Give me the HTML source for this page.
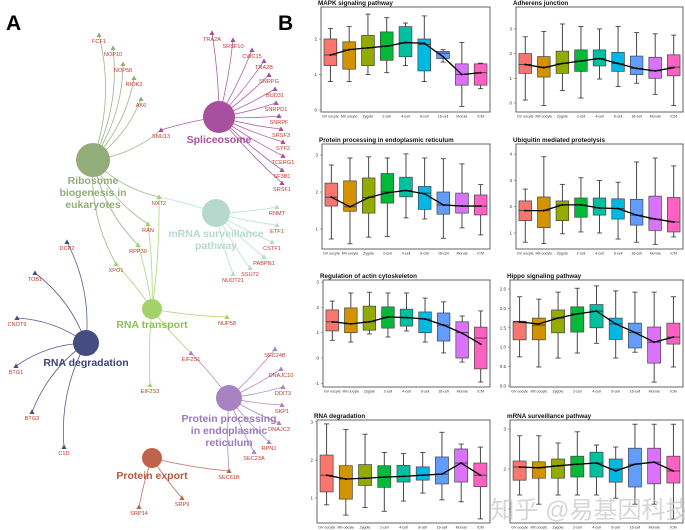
<!DOCTYPE html>
<html><head><meta charset="utf-8">
<style>
html,body{margin:0;padding:0;background:#fff;}
svg{display:block;font-family:"Liberation Sans","Noto Sans CJK SC",sans-serif;}
</style></head>
<body>
<svg id="fig" width="685" height="530" viewBox="0 0 685 530" xmlns="http://www.w3.org/2000/svg">
<g id="netA"></g>
<g id="boxB"></g>
<text x="6" y="30" font-size="21" font-weight="bold">A</text>
<text x="278" y="30" font-size="21" font-weight="bold">B</text>
<text x="590" y="518" font-size="24" fill="#c8c8c8" fill-opacity="0.75" text-anchor="middle">知乎 @易基因科技</text>
</svg>
<script>
// ---------- Panel B data ----------
const groups = ["GV oocyte","MII oocyte","Zygote","2-cell","4-cell","8-cell","16-cell","Morula","ICM"];
const panelTitles = ["MAPK signaling pathway","Adherens junction","Protein processing in endoplasmic reticulum","Ubiquitin mediated proteolysis","Regulation of actin cytoskeleton","Hippo signaling pathway","RNA degradation","mRNA surveillance pathway"];
// each entry: [lowWhisker, q1, median, q3, highWhisker]
const mapkStats = [[0.8,1.25,1.55,2.0,2.3],[0.8,1.15,1.7,1.92,2.35],[1.0,1.25,1.75,2.1,2.7],[1.05,1.4,1.8,2.2,2.6],[1.25,1.5,1.9,2.35,2.45],[0.8,1.1,1.85,2.0,2.65],[1.35,1.45,1.6,1.65,1.7],[0.1,0.7,1.0,1.3,1.9],[0.6,0.7,1.05,1.3,1.32]];
const mapkMean = [1.55,1.7,1.75,1.8,1.9,1.88,1.5,1.0,1.05];
const adherensStats = [[0.12,1.2,1.56,2.0,2.68],[-0.1,1.05,1.45,1.88,2.9],[0.5,1.2,1.6,2.1,3.2],[0.2,1.28,1.7,2.15,3.1],[0.97,1.5,1.8,2.15,3.0],[0.67,1.28,1.6,2.05,3.1],[0.8,1.15,1.4,1.9,2.85],[0.35,1.0,1.3,1.85,2.8],[-0.1,1.1,1.45,1.95,2.75]];
const adherensMean = [1.56,1.43,1.6,1.7,1.8,1.6,1.4,1.3,1.43];
const proteinStats = [[0.73,1.62,1.86,2.24,2.73],[0.6,1.48,1.6,2.3,2.92],[0.78,1.43,1.85,2.38,2.95],[0.8,1.7,2.0,2.5,2.92],[1.3,1.87,2.04,2.4,3.03],[1.27,1.53,1.97,2.15,2.92],[0.75,1.4,1.65,2.0,2.9],[1.03,1.43,1.62,1.97,2.76],[0.84,1.38,1.62,1.92,2.2]];
const proteinMean = [1.86,1.6,1.85,1.98,2.04,1.95,1.65,1.62,1.62];
const ubiqStats = [[0.65,1.47,1.85,2.22,2.67],[0.6,1.2,1.85,2.37,3.9],[0.97,1.47,2.07,2.22,2.85],[1.04,1.6,2.07,2.33,3.1],[1.0,1.68,1.95,2.33,3.0],[0.77,1.53,1.93,2.3,2.93],[0.65,1.3,1.68,2.28,3.7],[0.57,1.1,1.53,2.4,3.85],[0.85,1.04,1.42,2.35,3.55]];
const ubiqMean = [1.85,1.85,2.07,2.07,1.95,1.93,1.68,1.53,1.42];
const actinStats = [[0.7,1.07,1.43,1.9,2.25],[0.63,1.0,1.35,1.98,2.57],[0.95,1.1,1.43,2.05,2.6],[0.83,1.18,1.62,2.02,2.57],[1.07,1.26,1.58,1.93,2.57],[0.63,1.0,1.54,1.82,2.37],[0.2,0.67,1.3,1.78,2.22],[-0.16,0.0,1.0,1.43,1.66],[-0.95,-0.43,0.79,1.22,1.86]];
const actinMean = [1.43,1.35,1.43,1.62,1.6,1.54,1.3,0.98,0.55];
const hippoStats = [[0.75,1.19,1.65,1.67,2.3],[0.49,1.19,1.57,1.75,2.24],[0.72,1.37,1.75,1.96,2.42],[0.85,1.39,1.86,2.04,2.52],[1.1,1.5,1.93,2.1,2.58],[0.72,1.2,1.6,1.75,2.45],[0.87,0.98,1.38,1.62,2.42],[0.1,0.59,1.13,1.52,2.42],[0.49,1.08,1.26,1.62,2.3]];
const hippoMean = [1.65,1.6,1.75,1.86,1.93,1.6,1.38,1.13,1.26];
const rnadegStats = [[0.82,1.16,1.6,2.13,2.95],[0.55,0.97,1.5,1.85,2.8],[0.75,1.33,1.52,1.88,2.68],[0.65,1.28,1.55,1.85,2.2],[0.92,1.42,1.57,1.86,2.17],[1.13,1.47,1.6,1.82,2.2],[0.95,1.37,1.63,2.08,2.73],[0.9,1.42,1.92,2.29,2.42],[0.45,1.3,1.6,1.92,2.34]];
const rnadegMean = [1.6,1.5,1.52,1.55,1.57,1.6,1.63,1.92,1.6];
const mrnaStats = [[1.35,1.72,2.05,2.2,2.83],[1.12,1.77,2.03,2.18,2.83],[1.35,1.77,2.08,2.25,2.65],[1.35,1.8,2.12,2.32,2.93],[1.35,1.8,2.15,2.42,2.6],[1.27,1.67,2.0,2.25,2.55],[1.12,1.55,2.12,2.52,3.12],[1.12,1.63,2.17,2.52,3.12],[0.75,1.65,1.95,2.32,3.12]];
const mrnaMean = [2.05,2.03,2.08,2.12,2.15,1.95,2.12,2.17,1.95];
const tickSets = [[0,1,2],[0,1,2,3],[1,2,3],[1,2,3,4],[-1,0,1,2,3],[0,0.5,1,1.5,2,2.5],[1,2,3],[1,2,3]];

// ---------- layout (not data) ----------
const layouts = [
 {x0:321,x1:490,y0:7,y1:112,zero:110,unit:35.5},
 {x0:516,x1:683,y0:7,y1:112,zero:103,unit:24.7},
 {x0:322,x1:490,y0:144,y1:249,zero:266,unit:37},
 {x0:516,x1:683,y0:144,y1:249,zero:259.3,unit:26.3},
 {x0:323,x1:490,y0:280,y1:387,zero:358,unit:25.3},
 {x0:510,x1:683,y0:280,y1:387,zero:386,unit:38.8},
 {x0:317,x1:490,y0:420,y1:523,zero:536,unit:38},
 {x0:510,x1:683,y0:420,y1:523,zero:549,unit:40}
];
const allStats=[mapkStats,adherensStats,proteinStats,ubiqStats,actinStats,hippoStats,rnadegStats,mrnaStats];
const allMeans=[mapkMean,adherensMean,proteinMean,ubiqMean,actinMean,hippoMean,rnadegMean,mrnaMean];
const colors=["#F8766D","#D39200","#93AA00","#00BA38","#00C19F","#00B9E3","#619CFF","#DB72FB","#FF61C3"];
const NS="http://www.w3.org/2000/svg";
function mk(tag,attrs,parent){const e=document.createElementNS(NS,tag);for(const k in attrs)e.setAttribute(k,attrs[k]);parent.appendChild(e);return e;}
const B=document.getElementById('boxB');
layouts.forEach((L,p)=>{
  const g=mk('g',{},B);
  
  
  const yS=v=>L.zero-v*L.unit;
  const bw=(L.x1-L.x0)/groups.length;
  const xS=i=>L.x0+bw*(i+0.5);
  const t=mk('text',{x:L.x0-3,y:L.y0-2,'font-size':6.3,'font-weight':'bold',fill:'#111'},g);
  t.textContent=panelTitles[p];
  
  
  tickSets[p].forEach(v=>{
    const y=yS(v);
    const tl=mk('text',{x:L.x0-4,y:y+1.5,'font-size':4.5,'text-anchor':'end',fill:'#333'},g);
    tl.textContent=(p===5)?v.toFixed(1):String(v);
    
    
    mk('line',{x1:L.x0-2,x2:L.x0,y1:y,y2:y,stroke:'#555','stroke-width':0.5},g);
  });
  allStats[p].forEach((s,i)=>{
    const x=xS(i),w=bw*0.68;
    const wl=mk('line',{x1:x,x2:x,y1:yS(s[0]),y2:yS(s[4]),stroke:'#333','stroke-width':0.9},g);
    
    
    mk('line',{x1:x-w*0.2,x2:x+w*0.2,y1:yS(s[0]),y2:yS(s[0]),stroke:'#333','stroke-width':0.8},g);
    mk('line',{x1:x-w*0.2,x2:x+w*0.2,y1:yS(s[4]),y2:yS(s[4]),stroke:'#333','stroke-width':0.8},g);
    const r=mk('rect',{x:x-w/2,y:yS(s[3]),width:w,height:yS(s[1])-yS(s[3]),fill:colors[i],stroke:'#444','stroke-width':0.7},g);
    
    
    mk('line',{x1:x-w/2,x2:x+w/2,y1:yS(s[2]),y2:yS(s[2]),stroke:'#333','stroke-width':0.8},g);
    const xl=mk('text',{x:x,y:L.y1+5.5,'font-size':3.6,'text-anchor':'middle',fill:'#333'},g);
    xl.textContent=groups[i];
    
    
  });
  const pts=allMeans[p].map((v,i)=>xS(i)+','+yS(v)).join(' ');
  const pl=mk('polyline',{points:pts,fill:'none',stroke:'#000','stroke-width':1.3,'stroke-linejoin':'round'},g);
  
  
  allMeans[p].forEach((v,i)=>{const c=mk('circle',{cx:xS(i),cy:yS(v),r:1,fill:'#000'},g);
    
    });
  const fr=mk('rect',{x:L.x0,y:L.y0,width:L.x1-L.x0,height:L.y1-L.y0,fill:'none',stroke:'#555','stroke-width':0.9},g);
  
  
});

// ---------- Panel A network ----------
const A=document.getElementById('netA');
const hubs={
 ribo:{x:93,y:160,r:17,c:"#93ad7a",tc:"#93ad7a",lab:["Ribosome","biogenesis in","eukaryotes"],ly:184},
 splice:{x:219,y:117,r:16,c:"#a8509e",tc:"#a8509e",lab:["Spliceosome"],ly:143},
 mrna:{x:216,y:213,r:14,c:"#b5dacd",tc:"#b5dacd",lab:["mRNA surveillance","pathway"],ly:237},
 trans:{x:152,y:309,r:10,c:"#a3d16a",tc:"#8dc052",lab:["RNA transport"],ly:328},
 deg:{x:86,y:343,r:13,c:"#454d80",tc:"#3c4478",lab:["RNA degradation"],ly:366},
 proc:{x:229,y:398,r:13,c:"#a783c2",tc:"#9a7ab8",lab:["Protein processing","in endoplasmic","reticulum"],ly:422},
 exp:{x:152,y:458,r:10,c:"#c0634c",tc:"#b8583f",lab:["Protein export"],ly:479}
};
const genes=[
 ["FCF1",99,35,["ribo"]],["NOP10",113,48,["ribo"]],["NOP58",123,64,["ribo"]],["RIOK2",134,78,["ribo"]],["AK6",141,99,["ribo"]],
 ["SNU13",161,130,["ribo","splice"]],["NXT2",159,197,["ribo","mrna","trans"]],["RAN",148,224,["ribo","trans"]],["RPP30",138,245,["ribo","trans"]],["XPO1",116,264,["ribo","trans"]],
 ["TRA2A",212,33,["splice"]],["SRSF10",233,40,["splice"]],["CWC15",252,50,["splice"]],["TRA2B",264,61,["splice"]],["SNRPG",269,75,["splice"]],["BUD31",275,89,["splice"]],["SNRPD1",276,103,["splice"]],["SNRPF",279,116,["splice"]],["SRSF3",281,129,["splice"]],["SYF2",283,142,["splice"]],["TCERG1",283,156,["splice"]],["SF3B1",282,170,["splice"]],["SRSF1",282,183,["splice"]],
 ["RNMT",277,207,["mrna"]],["ETF1",277,225,["mrna"]],["CSTF1",272,242,["mrna"]],["PABPN1",264,257,["mrna"]],["SSU72",250,268,["mrna"]],["NUDT21",233,274,["mrna"]],
 ["DCP2",67,242,["deg"]],["TOB1",35,273,["deg"]],["CNOT9",17,318,["deg"]],["BTG1",16,366,["deg"]],["BTG3",32,412,["deg"]],["C1D",64,447,["deg"]],
 ["NUP58",227,317,["trans"]],["EIF2S1",191,353,["trans","proc"]],["EIF2S3",150,385,["trans"]],
 ["SEC24B",275,349,["proc"]],["DNAJC10",281,369,["proc"]],["DDIT3",283,387,["proc"]],["SKP1",282,405,["proc"]],["DNAJC3",279,423,["proc"]],["RPN1",269,442,["proc"]],["SEC23A",254,452,["proc"]],["SEC61B",229,471,["proc","exp"]],
 ["SRP14",139,507,["exp"]],["SRP9",182,498,["exp"]]
];
const eg=mk('g',{},A);
genes.forEach(gn=>{
  gn[3].forEach((h,k)=>{
    const H=hubs[h];
    const mx=(H.x+gn[1])/2, my=(H.y+gn[2])/2;
    const dx=gn[1]-H.x, dy=gn[2]-H.y;
    const bend=(h==='ribo'||h==='deg')?0.15:0.04;
    const e=mk('path',{d:`M${H.x},${H.y} Q${mx-dy*bend},${my+dx*bend} ${gn[1]},${gn[2]}`,fill:'none',stroke:H.c,'stroke-width':0.8,'stroke-opacity':0.9},eg);
    
    
  });
});
// extra long curved links from ribosome hub to RNA transport hub area
Object.keys(hubs).forEach(k=>{
  const H=hubs[k];
  const c=mk('circle',{cx:H.x,cy:H.y,r:H.r,fill:H.c},A);
  
  
  H.lab.forEach((l,i)=>{
    const t=mk('text',{x:H.x,y:H.ly+i*12,'font-size':10.5,'font-weight':'bold','text-anchor':'middle',fill:H.tc},A);
    t.textContent=l;
    
    
  });
});
genes.forEach(gn=>{
  const H=hubs[gn[3][gn[3].length-1]];
  const x=gn[1],y=gn[2];
  const tr=mk('polygon',{points:`${x-2.6},${y+2} ${x+2.6},${y+2} ${x},${y-2.6}`,fill:H.c},A);
  
  
  const t=mk('text',{x:x,y:y+8,'font-size':5.6,'text-anchor':'middle',fill:'#c0392b'},A);
  t.textContent=gn[0];
  
  
});
</script>
</body></html>
